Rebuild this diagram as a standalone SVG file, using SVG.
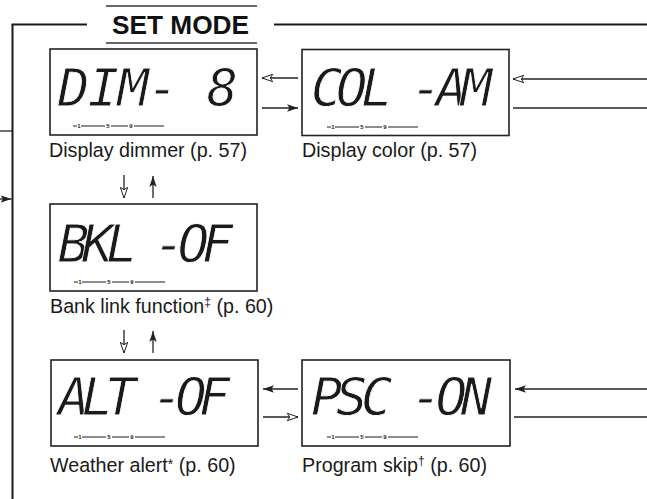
<svg xmlns="http://www.w3.org/2000/svg" width="647" height="499" viewBox="0 0 647 499">
<style>
.box{fill:#fff;stroke:#222;stroke-width:1.6}
.lcd{font-family:"DejaVu Sans Mono","Liberation Mono",monospace;font-style:oblique;font-size:52px;fill:#1a1a1a;stroke:#fff;stroke-width:0.8}
.lbl{font-family:"Liberation Sans",Arial,sans-serif;font-size:19.7px;fill:#1a1a1a}
.bar{stroke:#1a1a1a;stroke-width:1}
.num{font-family:"Liberation Sans",Arial,sans-serif;font-size:6px;font-weight:bold;fill:#1a1a1a;text-anchor:middle}
.ln{stroke:#222;stroke-width:1.3;fill:none}
.frame{stroke:#1a1a1a;stroke-width:2;fill:none}
.tl{stroke:#333;stroke-width:1.5}
.title{font-family:"Liberation Sans",Arial,sans-serif;font-size:26.5px;font-weight:bold;fill:#111}
</style>
<defs>
<marker id="af" viewBox="0 0 11 8" refX="11" refY="4" markerWidth="11" markerHeight="8" orient="auto" markerUnits="userSpaceOnUse">
<path d="M0,0.3 L11,4 L0,7.7 L2.5,4 z" fill="#222"/>
</marker>
<marker id="ao" viewBox="0 0 12 9" refX="11.3" refY="4.5" markerWidth="12" markerHeight="9" orient="auto" markerUnits="userSpaceOnUse">
<path d="M0.6,0.8 L11.3,4.5 L0.6,8.2 L3,4.5 z" fill="#fff" stroke="#222" stroke-width="1"/>
</marker>
<g id="scale">
<line class="bar" x1="0" y1="0" x2="4" y2="0"/>
<line class="bar" x1="8" y1="0" x2="32" y2="0"/>
<line class="bar" x1="38" y1="0" x2="55" y2="0"/>
<line class="bar" x1="61" y1="0" x2="91" y2="0"/>
<text class="num" x="6" y="2.2">1</text>
<text class="num" x="35" y="2.2">5</text>
<text class="num" x="58" y="2.2">9</text>
</g>
</defs>

<g id="frame">
<line class="frame" x1="12.5" y1="24.5" x2="12.5" y2="499"/>
<line class="frame" x1="11.5" y1="24.5" x2="87" y2="24.5"/>
<line class="frame" x1="274" y1="24.5" x2="647" y2="24.5"/>
<line class="tl" x1="106" y1="6" x2="257" y2="6"/>
<line class="tl" x1="106" y1="43" x2="257" y2="43"/>
<text class="title" x="112" y="34" textLength="137" lengthAdjust="spacingAndGlyphs">SET MODE</text>
</g>

<g id="dim">
<rect class="box" x="50" y="49" width="207" height="86"/>
<text class="lcd" x="58" y="106" textLength="180" lengthAdjust="spacing" xml:space="preserve">DIM- 8</text>
<use href="#scale" x="73" y="126"/>
<text class="lbl" x="49" y="157">Display dimmer (p. 57)</text>
</g>

<g id="col">
<rect class="box" x="302" y="49.5" width="207" height="86"/>
<text class="lcd" x="311" y="106" textLength="181" lengthAdjust="spacing" xml:space="preserve">COL -AM</text>
<use href="#scale" x="327" y="127"/>
<text class="lbl" x="302" y="157">Display color (p. 57)</text>
</g>

<g id="bkl">
<rect class="box" x="50" y="204" width="207" height="87"/>
<text class="lcd" x="58" y="262" textLength="175" lengthAdjust="spacing" xml:space="preserve">BKL -OF</text>
<use href="#scale" x="74" y="282"/>
<text class="lbl" x="50" y="313">Bank link function<tspan font-size="12" dy="-7">‡</tspan><tspan dy="7"> (p. 60)</tspan></text>
</g>

<g id="alt">
<rect class="box" x="51" y="360" width="207" height="86"/>
<text class="lcd" x="58" y="415" textLength="172" lengthAdjust="spacing" xml:space="preserve">ALT -OF</text>
<use href="#scale" x="74" y="437"/>
<text class="lbl" x="50" y="472">Weather alert<tspan font-size="14" dy="-3">*</tspan><tspan dy="3"> (p. 60)</tspan></text>
</g>

<g id="psc">
<rect class="box" x="302" y="360" width="208" height="86"/>
<text class="lcd" x="311" y="415" textLength="181" lengthAdjust="spacing" xml:space="preserve">PSC -ON</text>
<use href="#scale" x="327" y="437"/>
<text class="lbl" x="302" y="472">Program skip<tspan font-size="12" dy="-7">†</tspan><tspan dy="7"> (p. 60)</tspan></text>
</g>

<g id="connectors">
<line class="ln" x1="0" y1="131" x2="12" y2="131"/>
<line class="ln" x1="0" y1="199" x2="11.5" y2="199" marker-end="url(#af)"/>
<line class="ln" x1="298" y1="78" x2="262" y2="78" marker-end="url(#ao)"/>
<line class="ln" x1="262" y1="108" x2="298" y2="108" marker-end="url(#af)"/>
<line class="ln" x1="647" y1="79" x2="513" y2="79" marker-end="url(#ao)"/>
<line class="ln" x1="513" y1="108" x2="647" y2="108"/>
<line class="ln" x1="124" y1="175" x2="124" y2="198" marker-end="url(#ao)"/>
<line class="ln" x1="153" y1="198" x2="153" y2="176" marker-end="url(#af)"/>
<line class="ln" x1="124" y1="330" x2="124" y2="353" marker-end="url(#ao)"/>
<line class="ln" x1="153" y1="353" x2="153" y2="331" marker-end="url(#af)"/>
<line class="ln" x1="298" y1="389" x2="263" y2="389" marker-end="url(#af)"/>
<line class="ln" x1="263" y1="417" x2="298" y2="417" marker-end="url(#ao)"/>
<line class="ln" x1="647" y1="389" x2="515" y2="389" marker-end="url(#af)"/>
<line class="ln" x1="514" y1="417" x2="647" y2="417"/>
</g>
</svg>
